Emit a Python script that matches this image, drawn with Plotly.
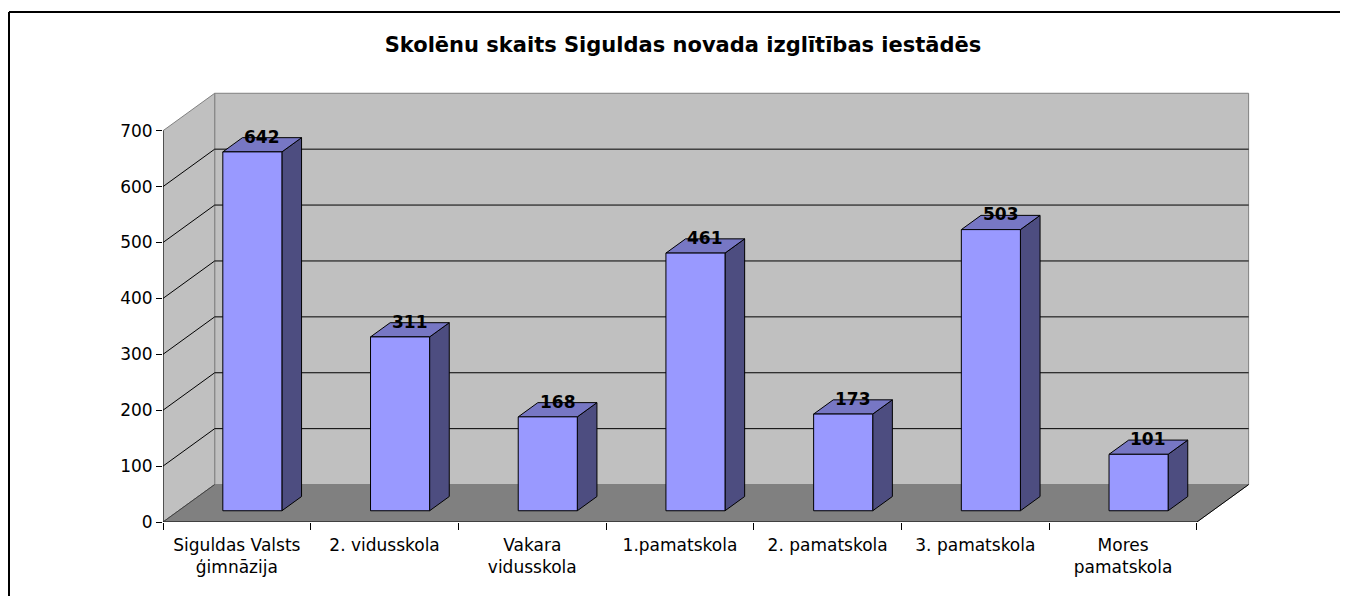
import plotly.graph_objects as go

# ---- data ----
categories = ["Siguldas Valsts<br>ģimnāzija", "2. vidusskola", "Vakara<br>vidusskola",
              "1.pamatskola", "2. pamatskola", "3. pamatskola", "Mores<br>pamatskola"]
values = [642, 311, 168, 461, 173, 503, 101]
y_ticks = [0, 100, 200, 300, 400, 500, 600, 700]
title_text = "Skolēnu skaits Siguldas novada izglītības iestādēs"

# ---- 3D projection settings (in axis units) ----
DX = 0.35      # depth offset in category units
DY = 67.0      # depth offset in value units
F1, F2 = 0.30, 0.68   # bar front/back depth fractions
HALF_W = 0.20
YMAX = 700
n = len(values)
XL, XR = -0.5, n - 0.5

OFF = 8  # page body margin
W_PX, H_PX = 1348 - OFF, 596 - OFF
L, T = 163 - OFF, 86 - OFF
plot_w = round(7.4 * 147.71)
R = W_PX - L - plot_w
yr_top = YMAX + DY + 13
plot_h = round(yr_top * 0.5586)
B = H_PX - T - plot_h

FRONT = "#9999FF"
TOP = "#7777C4"
SIDE = "#4D4D80"
WALL = "#C0C0C0"
FLOOR = "#808080"

fig = go.Figure()

def poly(xs, ys, fill, line_color, width=1):
    fig.add_trace(go.Scatter(x=xs + [xs[0]], y=ys + [ys[0]], mode="lines", fill="toself",
                             fillcolor=fill, line=dict(color=line_color, width=width),
                             hoverinfo="skip", showlegend=False))

def seg(xs, ys, color, width=1):
    fig.add_trace(go.Scatter(x=xs, y=ys, mode="lines", line=dict(color=color, width=width),
                             hoverinfo="skip", showlegend=False))

# back wall
poly([XL + DX, XR + DX, XR + DX, XL + DX], [DY, DY, YMAX + DY, YMAX + DY], WALL, FLOOR)
# left wall
poly([XL, XL + DX, XL + DX, XL], [0, DY, YMAX + DY, YMAX], WALL, FLOOR)
# floor
poly([XL, XR, XR + DX, XL + DX], [0, 0, DY, DY], FLOOR, FLOOR)
# floor front and right edges
seg([XL, XR, XR + DX], [0, 0, DY], "black")
seg([XL, XL + DX], [0, DY], "#404040")

# gridlines
for v in y_ticks[1:-1]:
    seg([XL, XL + DX, XR + DX], [v, v + DY, v + DY], "black")

# y axis line
seg([XL, XL], [0, YMAX], "black")

# bars
for i, v in enumerate(values):
    x0 = i + F1 * DX - HALF_W
    x1 = i + F1 * DX + HALF_W
    y0 = F1 * DY
    d_x = (F2 - F1) * DX
    d_y = (F2 - F1) * DY
    # side
    poly([x1, x1 + d_x, x1 + d_x, x1], [y0, y0 + d_y, y0 + v + d_y, y0 + v], SIDE, "black")
    # top
    poly([x0, x1, x1 + d_x, x0 + d_x], [y0 + v, y0 + v, y0 + v + d_y, y0 + v + d_y], TOP, "black")
    # front
    poly([x0, x1, x1, x0], [y0, y0, y0 + v, y0 + v], FRONT, "black")

# data labels
FM = (F1 + F2) / 2
for i, v in enumerate(values):
    fig.add_annotation(x=i + FM * DX, y=v + FM * DY, text=str(v), showarrow=False,
                       xanchor="center", yanchor="middle", yshift=8,
                       font=dict(family="DejaVu Sans", size=17, color="black", weight="bold"))

fig.update_layout(
    width=W_PX, height=H_PX,
    margin=dict(l=L, r=R, t=T, b=B),
    paper_bgcolor="white", plot_bgcolor="white",
    title=dict(text="<b>" + title_text + "</b>", x=(683 - OFF) / W_PX, xanchor="center",
               y=1 - (45 - OFF) / H_PX, yanchor="middle", xref="container", yref="container",
               font=dict(family="DejaVu Sans", size=21, color="black")),
    xaxis=dict(range=[XL, XL + 7.4], tickvals=list(range(n)), ticktext=categories,
               showgrid=False, zeroline=False, showline=False, ticks="",
               ticklabelstandoff=11,
               tickfont=dict(family="DejaVu Sans", size=17, color="black"),
               minor=dict(tickvals=[k - 0.5 for k in range(n + 1)], ticks="outside",
                          ticklen=7, tickcolor="black", tickwidth=1, showgrid=False)),
    yaxis=dict(range=[0, yr_top], tickvals=y_ticks, showgrid=False, zeroline=False,
               showline=False, ticks="outside", ticklen=6, tickcolor="black",
               tickfont=dict(family="DejaVu Sans", size=17, color="black")),
)

# outer border (top and left only visible in reference)
bx0 = (1 - L) / plot_w
by1 = 1 + (T - 4) / plot_h
fig.add_shape(type="line", xref="paper", yref="paper", x0=bx0, x1=bx0,
              y0=-(B + 10) / plot_h, y1=by1, line=dict(color="black", width=2))
fig.add_shape(type="line", xref="paper", yref="paper", x0=bx0, x1=(W_PX - L + 10) / plot_w,
              y0=by1, y1=by1, line=dict(color="black", width=2))

fig.write_html("out.html")
